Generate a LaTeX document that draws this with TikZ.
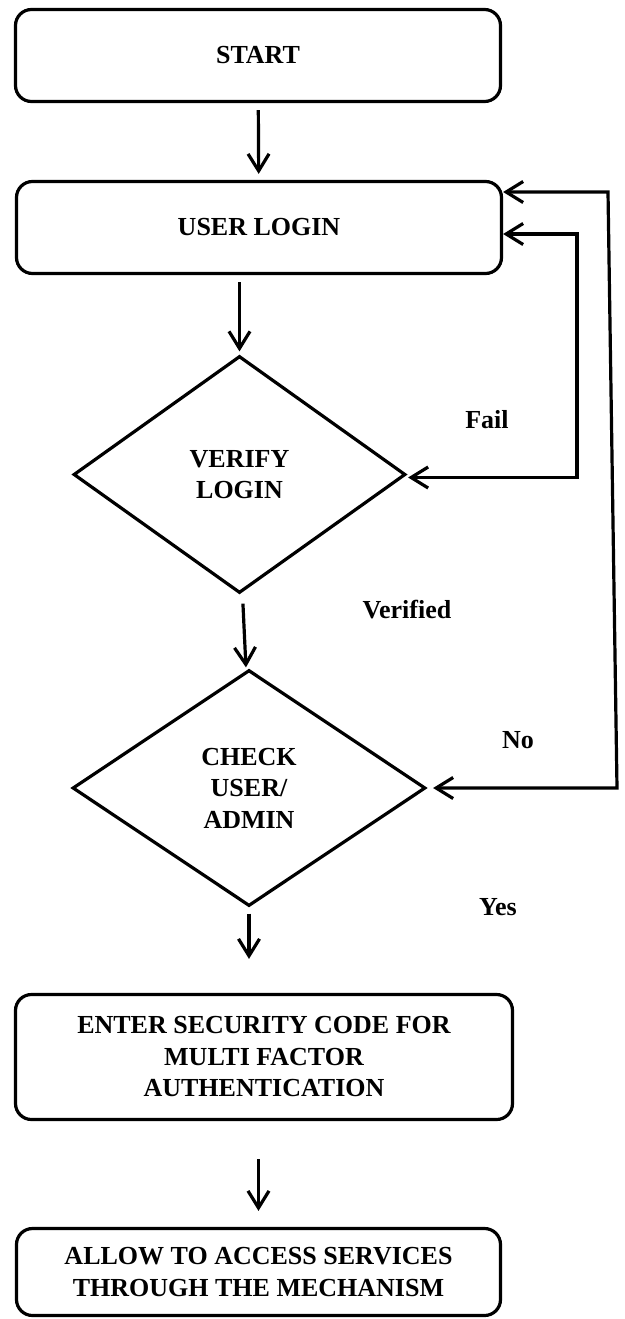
\documentclass[tikz,border=0pt]{standalone}
\usepackage{fontspec}
\setmainfont{Liberation Serif}
\usetikzlibrary{arrows.meta,shapes.geometric,calc}

\tikzset{
  txt/.style={font=\fontsize{26}{31.5}\selectfont\bfseries, align=center, inner sep=0pt},
  stepbox/.style={txt, draw, line width=3.2pt, rounded corners=16pt},
  decision/.style={txt, draw, diamond, line width=3.2pt},
  barb/.tip={Straight Barb[length=17pt,width=21pt]},
  arr/.style={line width=3.2pt, -barb},
  twoway/.style={line width=3.2pt, barb-barb},
  lbl/.style={txt}
}

\begin{document}
\begin{tikzpicture}[x=1pt,y=-1pt]
\useasboundingbox (0,0) rectangle (624,1319);

% process boxes
\node[stepbox, minimum width=485pt, minimum height=92pt] (start) at (258,55.5) {START};
\node[stepbox, minimum width=485pt, minimum height=92pt] (login) at (259,227.5) {USER LOGIN};
\node[stepbox, minimum width=497pt, minimum height=125pt] (enter) at (264,1057) {ENTER SECURITY CODE FOR\\MULTI FACTOR\\AUTHENTICATION};
\node[stepbox, minimum width=484pt, minimum height=87pt] (allow) at (258.5,1272) {ALLOW TO ACCESS SERVICES\\THROUGH THE MECHANISM};

% decisions
\node[decision, minimum width=332pt, minimum height=237pt] (verify) at (239.5,474.5) {VERIFY\\LOGIN};
\node[decision, minimum width=353pt, minimum height=236pt] (check) at (249,788) {CHECK\\USER/\\ADMIN};

% branch labels
\node[lbl] (fail) at (487,420) {Fail};
\node[lbl] (verified) at (407,610) {Verified};
\node[lbl] (no) at (518,740) {No};
\node[lbl] (yes) at (498,907) {Yes};

% main flow
\draw[arr, shorten <=7pt, shorten >=6pt] (start) -- (login);
\draw[arr, shorten <=7pt, shorten >=3pt] (login.south -| verify.north) -- (verify.north);
\draw[arr, shorten <=9pt, shorten >=1pt] ([xshift=3pt]verify.south) -- ([xshift=-3pt]check.north);
\draw[arr, shorten <=6pt, shorten >=34pt] (check.south) -- (enter.north -| check.south);
\draw[arr, shorten <=38pt, shorten >=16pt] (enter.south -| allow.north) -- (allow.north);

% return paths to the login step
\coordinate (failtop) at (577,234);
\coordinate (nobottom) at (617,787);
\coordinate (notop) at (608,192);
\draw[twoway, shorten <=1pt] ($(verify.east)+(0,3)$) -- ($(verify.east -| failtop)+(0,3)$) -- (failtop) -- (failtop -| login.east);
\draw[twoway, shorten <=6pt] (check.east) -- (check.east -| nobottom) -- (notop) -- (notop -| login.east);
\end{tikzpicture}
\end{document}
